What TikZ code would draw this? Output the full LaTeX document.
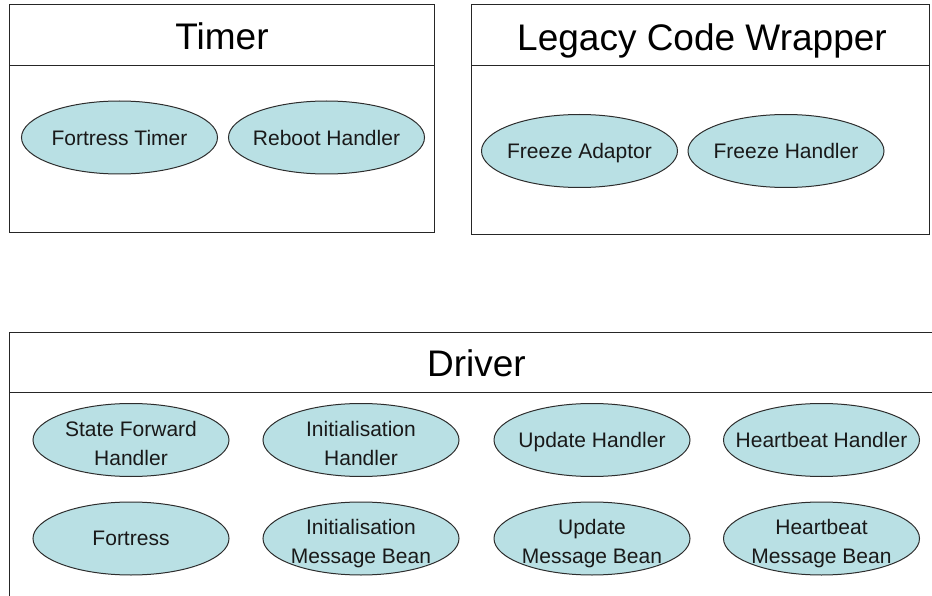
\documentclass[tikz,border=0pt]{standalone}
\usepackage{fontspec}
\setmainfont{Liberation Sans}
\usetikzlibrary{shapes.geometric}
\definecolor{beanfill}{RGB}{185,224,228}
\definecolor{beanline}{RGB}{45,45,45}
\tikzset{
  pkgline/.style={draw=black!85, line width=1pt},
  pkgtitle/.style={font=\fontsize{37}{40}\selectfont, inner sep=0pt, text height=26.5pt, text depth=0pt},
  beanshape/.style={ellipse, draw=beanline, line width=1pt, fill=beanfill,
    minimum width=196pt, minimum height=73pt, inner sep=0pt},
  bean/.style={beanshape, label={[beantext]center:#1}},
  beantwo/.style={beanshape, label={[beantext, yshift=-3pt]center:#1}},
  beantext/.style={font=\fontsize{21}{29}\selectfont, align=center, inner sep=0pt,
    text depth=0pt, text=black!90}
}
\begin{document}
\begin{tikzpicture}[x=1pt,y=-1pt]
  \useasboundingbox (0,0) rectangle (932,596);
  \fill[white] (0,0) rectangle (932,596);

  % Timer package
  \draw[pkgline] (9.5,5) rectangle (434,233);
  \draw[pkgline] (9.5,66) -- (434,66);
  \node[pkgtitle] (timer) at (222,36.5) {Timer};
  \node[bean={Fortress Timer}] (ftimer) at (119.5,137.5) {};
  \node[bean={Reboot Handler}] (reboot) at (326.5,137.5) {};

  % Legacy code wrapper package
  \draw[pkgline] (471.5,5) rectangle (929,235);
  \draw[pkgline] (471.5,66) -- (929,66);
  \node[pkgtitle] (legacy) at (702,37.5) {Legacy Code Wrapper};
  \node[bean={Freeze Adaptor}] (fadaptor) at (579.5,151) {};
  \node[bean={Freeze Handler}] (fhandler) at (786,151) {};

  % Driver package (runs past the right and bottom edges)
  \begin{scope}
    \clip (0,0) rectangle (932,596);
    \draw[pkgline] (9.5,332) rectangle (943.5,640);
    \draw[pkgline] (9.5,392) -- (943.5,392);
  \end{scope}
  \node[pkgtitle] (driver) at (476.5,363.5) {Driver};

  \node[beantwo={State Forward\\Handler}] (sfh) at (131,440) {};
  \node[beantwo={Initialisation\\Handler}] (inith) at (361,440) {};
  \node[bean={Update Handler}] (updh) at (592,440) {};
  \node[bean={Heartbeat Handler}] (hbh) at (821.5,440) {};

  \node[bean={Fortress}] (fortress) at (131,538.5) {};
  \node[beantwo={Initialisation\\Message Bean}] (initmb) at (361,538.5) {};
  \node[beantwo={Update\\Message Bean}] (updmb) at (592,538.5) {};
  \node[beantwo={Heartbeat\\Message Bean}] (hbmb) at (821.5,538.5) {};
\end{tikzpicture}
\end{document}
